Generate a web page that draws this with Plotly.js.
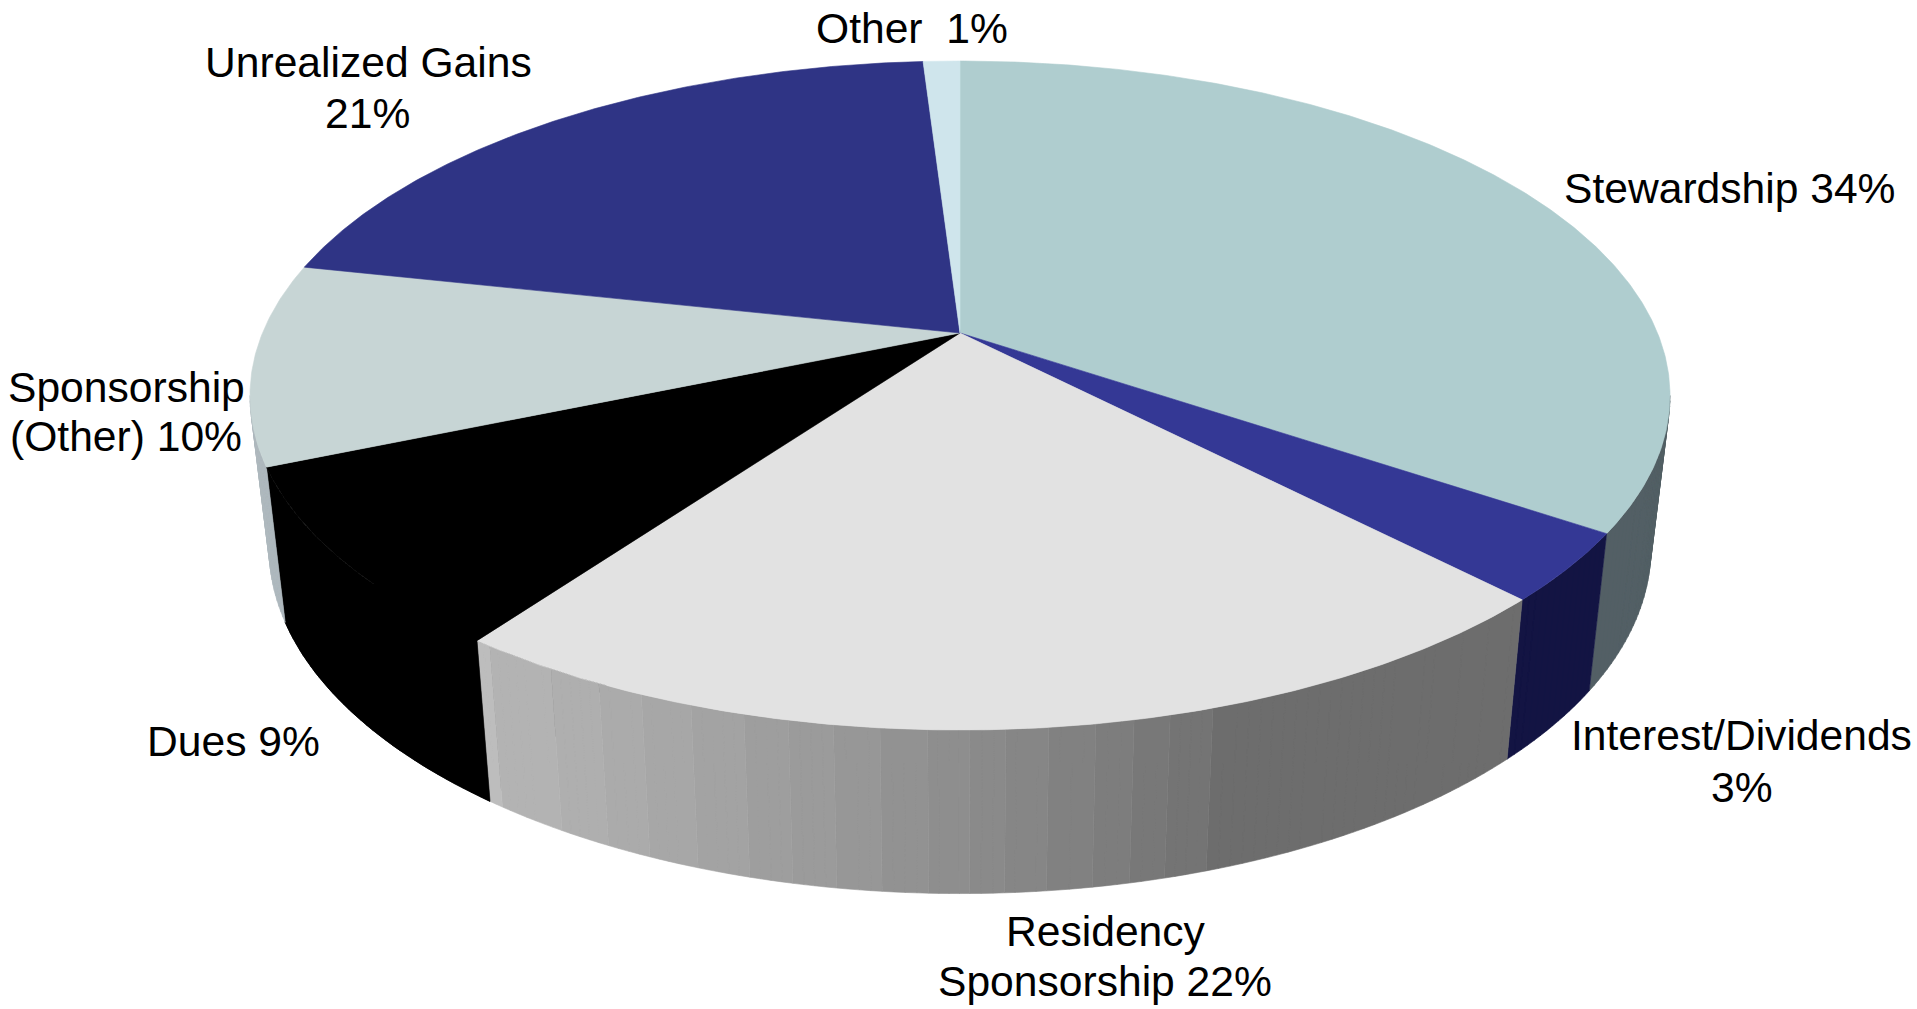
<!DOCTYPE html>
<html>
<head>
<meta charset="utf-8">
<script src="https://cdn.plot.ly/plotly-3.0.1.min.js"></script>
<style>html,body{margin:0;padding:0;background:#fff}#chart{width:1917px;height:1009px}</style>
</head>
<body>
<div id="chart"></div>
<script>
// Data
const categories = ['Stewardship','Interest/Dividends','Residency Sponsorship','Dues','Sponsorship (Other)','Unrealized Gains','Other'];
const shares = [34.4, 3.3, 22.3, 8.7, 9.7, 20.6, 1.0];
const topColors = ['#AFCDCF','#343895','#E2E2E2','#000000','#C7D5D5','#2F3485','#CFE5EC'];
const wallColors = ['#535F65','#131443','#6D6D6D','#000000','#AEB8BE','#1F2358','#8A9A9E'];
const residencyWallStops = [0,.3356,.3736,.405,.4377,.4774,.5134,.5433,.5784,.6183,.6575,.6961,.7347,.7821,.8281,.8692,.9178,.9851,1];
const residencyWallShades = ['#6D6D6D','#747474','#787878','#7D7D7D','#818181','#868686','#8A8A8A','#8E8E8E','#929292','#979797','#9B9B9B','#9E9E9E','#A3A3A3','#A7A7A7','#ABABAB','#AFAFAF','#B3B3B3','#BDBDBD'];
const labelLines = ['Other\u00A0\u00A01%','Unrealized Gains','21%','Stewardship 34%','Sponsorship','(Other) 10%','Dues 9%','Interest/Dividends','3%','Residency','Sponsorship 22%'];
const labelPlaces = [[912,28],[368,62],[367,113],[1729,188],[126,387],[126,436],[233,741],[1741,735],[1742,787],[1106,931],[1105,981]];

// Perspective projection of the disc
const cx = 960, persp = 0.1869;
const topFace = {y0:333, ax:697.5, by:322.8};
const baseFace = {y0:484, ax:697.5*0.973, by:333};
const frontStart = Math.acos(-persp)/(2*Math.PI)*100, frontEnd = 100-frontStart;
function project(pct, face){
  const t = pct/100*2*Math.PI, u = Math.sin(t), v = Math.cos(t), w = 1+persp*v;
  return [cx+face.ax*u/w, face.y0-face.by*v/w];
}
function arc(from, to, face){
  const n = Math.max(2, Math.ceil(Math.abs(to-from)*8)), pts = [];
  for(let i=0;i<=n;i++) pts.push(project(from+(to-from)*i/n, face));
  return pts;
}
function poly(pts, color, name){
  return {type:'scatter',mode:'lines',x:pts.map(p=>p[0]),y:pts.map(p=>p[1]),fill:'toself',fillcolor:color,
    line:{color:color,width:0.6},hoverinfo:'text',text:name,name:name,showlegend:false};
}
function wall(from, to, color, name){
  const a = Math.max(from, frontStart), b = Math.min(to, frontEnd);
  if(a >= b) return null;
  const n = Math.max(1, Math.ceil((b-a)*4)), xs = [], ys = [];
  for(let i=0;i<n;i++){
    const p = a+(b-a)*i/n, q = a+(b-a)*(i+1)/n;
    [project(p,topFace),project(q,topFace),project(q,baseFace),project(p,baseFace),project(p,topFace)].forEach(pt=>{xs.push(pt[0]);ys.push(pt[1]);});
    xs.push(null);ys.push(null);
  }
  return {type:'scatter',mode:'lines',x:xs,y:ys,fill:'toself',fillcolor:color,connectgaps:false,
    line:{color:color,width:0.6},hoverinfo:'text',text:name,name:name,showlegend:false};
}
const underlay = [], wallTraces = [], topTraces = [];
const apex = [cx, topFace.y0];
let acc = 0;
shares.forEach((s,i)=>{
  const a = acc, b = acc+s; acc = b;
  if(i===2){
    residencyWallShades.forEach((c,k)=>{
      const w = wall(a+s*residencyWallStops[k], a+s*residencyWallStops[k+1], c, categories[i]);
      if(w) wallTraces.push(w);
    });
  } else {
    const w = wall(a, b, wallColors[i], categories[i]);
    if(w) wallTraces.push(w);
  }
  // the black slice has no visible seam between its top and its wall
  if(topColors[i]===wallColors[i]) underlay.push(poly([apex].concat(arc(a,b,baseFace)).concat([apex]), topColors[i], categories[i]));
  topTraces.push(poly([apex].concat(arc(a,b,topFace)).concat([apex]), topColors[i], categories[i]));
});
const annotations = labelLines.map((t,i)=>({text:t,x:labelPlaces[i][0],y:labelPlaces[i][1],xref:'x',yref:'y',
  showarrow:false,xanchor:'center',yanchor:'middle',font:{family:'"Liberation Sans",Arial,sans-serif',size:42.6,color:'#000'}}));
Plotly.newPlot('chart', underlay.concat(wallTraces,topTraces), {
  width:1917,height:1009,margin:{l:0,r:0,t:0,b:0},paper_bgcolor:'#fff',plot_bgcolor:'#fff',showlegend:false,
  xaxis:{range:[0,1917],visible:false,fixedrange:true},
  yaxis:{range:[1009,0],visible:false,fixedrange:true},
  annotations:annotations
},{displayModeBar:false,staticPlot:true});
</script>
</body>
</html>
